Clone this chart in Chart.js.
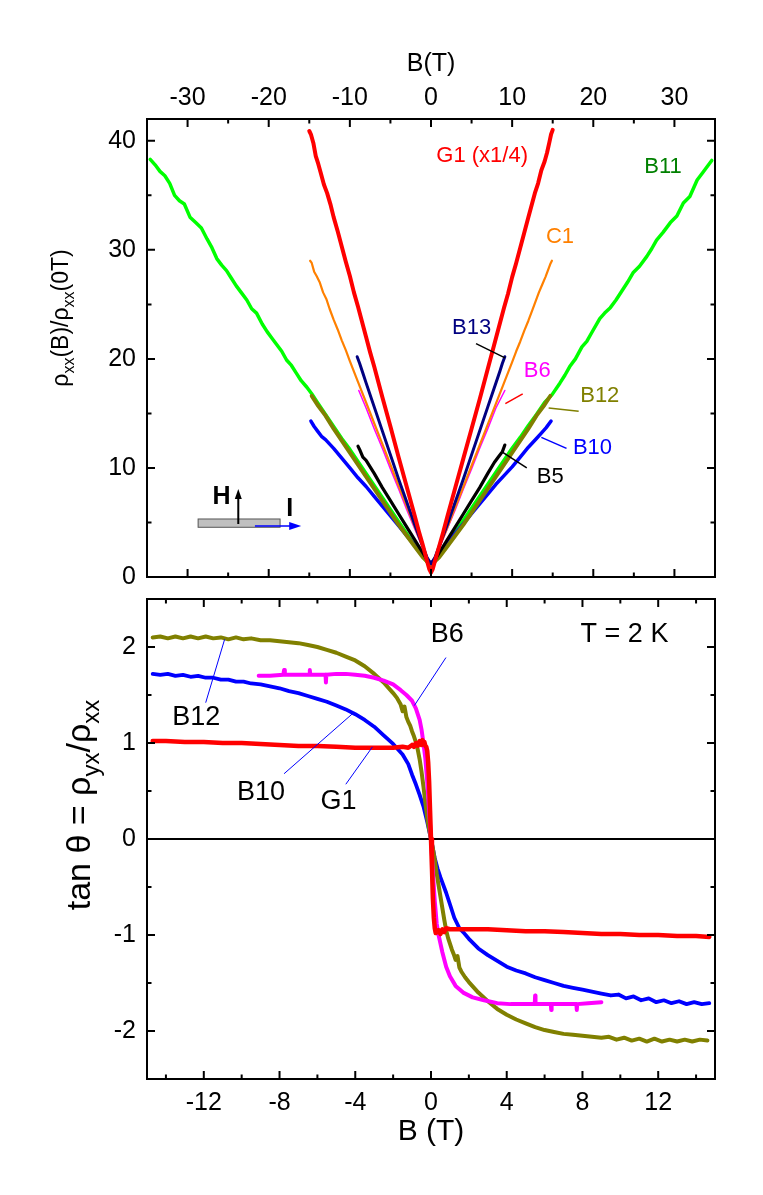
<!DOCTYPE html>
<html>
<head>
<meta charset="utf-8">
<script src="https://cdn.jsdelivr.net/npm/chart.js@4.4.1/dist/chart.umd.min.js"></script>
<style>
  body { margin: 0; background: #fff; }
  #wrap { position: relative; width: 763px; height: 1195px; overflow: hidden; }
  #wrap canvas { position: absolute; left: 0; }
</style>
</head>
<body>
<div id="wrap">
  <canvas id="mrChart" width="763" height="607" style="top:0"></canvas>
  <canvas id="hallChart" width="763" height="626" style="top:569px"></canvas>
</div>
<script>
// ---- top panel: rho_xx(B)/rho_xx(0T), pairs of [B (T), ratio] ----
const g1Top = [[-15,40.9],[-14.8,40.6],[-14.5,39.8],[-14.2,38.6],[-13.9,37.9],[-13.6,37.1],[-13.2,36.0],[-12.8,35.2],[-12.4,34.2],[-12,33.0],[-11.5,31.7],[-11,30.3],[-10.5,28.9],[-10,27.6],[-9.5,26.1],[-9,24.8],[-8.5,23.4],[-8,22.0],[-7.5,20.6],[-7,19.3],[-6,16.5],[-5,13.8],[-4,11.0],[-3,8.3],[-2,5.6],[-1.5,4.2],[-1,2.9],[-0.5,1.5],[-0.2,0.7],[0,0.4],[0.2,0.7],[0.5,1.5],[1,2.8],[1.5,4.1],[2,5.5],[3,8.2],[4,10.9],[5,13.6],[6,16.3],[7,19.1],[7.5,20.5],[8,21.9],[8.5,23.3],[9,24.7],[9.5,26.0],[10,27.5],[10.5,28.8],[11,30.2],[11.5,31.6],[12,33.0],[12.4,34.1],[12.8,35.2],[13.2,36.1],[13.6,37.3],[14,38.1],[14.3,38.9],[14.6,39.9],[14.8,40.6],[15,41.0]];
const c1Top = [[-14.9,29.0],[-14.7,28.8],[-14.4,28.0],[-14.1,27.6],[-13.7,27.0],[-13.3,26.1],[-12.9,25.5],[-12.5,24.6],[-12,23.6],[-11.5,22.7],[-11,21.7],[-10.5,20.8],[-10,19.8],[-9,17.9],[-8,16.0],[-7,14.1],[-6,12.2],[-5,10.3],[-4,8.4],[-3,6.5],[-2,4.6],[-1,2.7],[-0.5,1.8],[0,1.1],[0.5,1.8],[1,2.7],[2,4.5],[3,6.4],[4,8.3],[5,10.2],[6,12.1],[7,14.0],[8,15.9],[9,17.8],[10,19.7],[10.5,20.7],[11,21.6],[11.5,22.6],[12,23.5],[12.5,24.5],[12.9,25.3],[13.3,26.1],[13.7,26.8],[14.1,27.5],[14.4,28.1],[14.7,28.7],[14.9,29.0]];
const b13Top = [[-9.1,20.2],[-8.8,19.6],[-8.4,18.7],[-8,17.8],[-7,15.6],[-6,13.4],[-5,11.2],[-4,9.0],[-3,6.9],[-2,4.8],[-1,2.8],[-0.5,1.8],[0,1.2],[0.5,1.8],[1,2.8],[2,4.8],[3,6.9],[4,9.0],[5,11.2],[6,13.4],[7,15.6],[8,17.8],[8.5,18.9],[8.8,19.6],[9.1,20.2]];
const b6Top = [[-8.9,17.1],[-8,15.5],[-7,13.6],[-6,11.8],[-5,9.9],[-4,8.1],[-3,6.2],[-2,4.4],[-1,2.6],[0,1.1],[1,2.6],[2,4.4],[3,6.2],[4,8.1],[5,9.9],[6,11.8],[7,13.6],[8,15.5],[9.1,17.1]];
const b5Top = [[-9.0,12.0],[-8.8,11.7],[-8.4,11.0],[-8,10.7],[-7.5,10.1],[-7,9.5],[-6,8.2],[-5,7.0],[-4,5.8],[-3,4.6],[-2,3.4],[-1,2.2],[-0.5,1.6],[0,1.2],[0.5,1.6],[1,2.2],[2,3.4],[3,4.6],[4,5.8],[5,7.0],[6,8.2],[7,9.5],[7.8,10.5],[8.3,11.0],[8.8,11.5],[9.1,12.1]];
const b12Top = [[-14.7,16.6],[-14,15.8],[-13,14.8],[-12,13.6],[-11,12.5],[-10,11.4],[-9,10.3],[-8,9.2],[-7,8.1],[-6,7.0],[-5,5.9],[-4,4.8],[-3,3.8],[-2,2.8],[-1,1.8],[0,1.1],[1,1.8],[2,2.8],[3,3.8],[4,4.8],[5,5.9],[6,7.0],[7,8.1],[8,9.2],[9,10.3],[10,11.4],[11,12.5],[12,13.6],[13,14.8],[14,15.8],[14.7,16.6]];
const b10Top = [[-14.8,14.3],[-14.4,13.8],[-14,13.4],[-13.5,12.9],[-13,12.6],[-12,11.8],[-11,10.9],[-10,10.0],[-9,9.1],[-8,8.3],[-7,7.4],[-6,6.5],[-5,5.6],[-4,4.7],[-3,3.8],[-2,2.9],[-1,2.0],[0,1.2],[1,2.1],[2,3.1],[3,4.0],[4,4.9],[5,5.8],[6,6.7],[7,7.6],[8,8.5],[9,9.3],[10,10.1],[11,11.0],[12,11.9],[13,12.7],[13.6,13.2],[14.2,13.7],[14.8,14.3]];
const b11Top = [[-34.6,38.3],[-34.0,37.8],[-33.4,37.2],[-32.8,36.8],[-32.2,36.1],[-31.6,35.0],[-31.0,34.5],[-30.4,34.2],[-29.7,33.0],[-29.0,32.5],[-28.3,32.0],[-27.6,31.0],[-27.0,30.2],[-26.4,29.2],[-25.8,28.6],[-25.2,28.1],[-24.6,27.4],[-24.0,26.7],[-23.4,26.1],[-22.7,25.4],[-22.1,24.6],[-21.5,24.2],[-20.8,23.2],[-20.2,22.5],[-19.6,21.9],[-19.0,21.3],[-18.4,20.7],[-17.8,19.9],[-17.2,19.4],[-16.6,18.7],[-16.0,18.0],[-15.3,17.4],[-14.7,16.8],[-14,16.0],[-13,14.9],[-12,13.8],[-11,12.7],[-10,11.7],[-9,10.6],[-8,9.5],[-7,8.4],[-6,7.3],[-5,6.2],[-4,5.1],[-3,4.0],[-2,2.9],[-1,1.9],[-0.5,1.4],[0,1.1],[0.5,1.5],[1,2.0],[2,3.0],[3,4.1],[4,5.2],[5,6.3],[6,7.4],[7,8.5],[8,9.6],[9,10.7],[10,11.8],[11,12.8],[12,13.9],[13,14.9],[14,16.0],[14.9,16.7],[15.9,17.8],[16.5,18.5],[17.1,19.3],[17.8,20.0],[18.6,21.1],[19.2,21.6],[19.8,22.4],[20.8,23.7],[21.4,24.2],[22.1,24.7],[22.8,25.4],[23.5,26.2],[24.2,27.0],[24.9,27.9],[25.7,28.5],[26.6,29.4],[27.2,30.1],[27.8,30.9],[28.6,31.6],[29.5,32.5],[30.3,33.1],[31.1,34.3],[31.9,34.9],[32.8,36.4],[33.5,37.1],[34.0,37.6],[34.6,38.2]];

// ---- bottom panel: tan(theta), pairs of [B (T), value] ----
const b12Bot = [[-14.7,2.10],[-14.3,2.11],[-13.9,2.09],[-13.5,2.11],[-13.1,2.09],[-12.7,2.11],[-12.3,2.09],[-11.9,2.11],[-11.5,2.09],[-11.1,2.10],[-10.7,2.08],[-10.3,2.10],[-9.9,2.08],[-9.5,2.09],[-9,2.07],[-8.5,2.07],[-8,2.06],[-7.5,2.05],[-7,2.04],[-6.5,2.02],[-6,2.00],[-5.5,1.97],[-5,1.94],[-4.5,1.90],[-4,1.86],[-3.5,1.80],[-3,1.72],[-2.5,1.63],[-2,1.52],[-1.8,1.47],[-1.6,1.40],[-1.5,1.33],[-1.4,1.38],[-1.3,1.27],[-1.2,1.22],[-1.1,1.18],[-1,1.12],[-0.9,1.07],[-0.8,1.01],[-0.7,0.93],[-0.6,0.83],[-0.5,0.70],[-0.4,0.55],[-0.3,0.38],[-0.2,0.22],[-0.1,0.10],[0,0],[0.1,-0.10],[0.2,-0.22],[0.3,-0.36],[0.4,-0.48],[0.5,-0.60],[0.6,-0.72],[0.7,-0.84],[0.8,-0.95],[0.9,-1.03],[1,-1.09],[1.1,-1.15],[1.2,-1.20],[1.3,-1.26],[1.4,-1.22],[1.5,-1.34],[1.6,-1.38],[1.8,-1.44],[2,-1.49],[2.5,-1.60],[3,-1.69],[3.5,-1.77],[4,-1.83],[4.5,-1.88],[5,-1.92],[5.5,-1.96],[6,-1.99],[6.5,-2.01],[7,-2.03],[7.5,-2.04],[8,-2.05],[8.5,-2.06],[9,-2.07],[9.4,-2.06],[9.8,-2.09],[10.2,-2.07],[10.6,-2.10],[11,-2.08],[11.4,-2.11],[11.8,-2.08],[12.2,-2.11],[12.6,-2.09],[13,-2.11],[13.4,-2.09],[13.8,-2.11],[14.2,-2.09],[14.6,-2.10]];
const b10Bot = [[-14.7,1.72],[-14.3,1.71],[-13.9,1.72],[-13.5,1.70],[-13.1,1.71],[-12.7,1.69],[-12.3,1.70],[-11.9,1.68],[-11.5,1.68],[-11.1,1.66],[-10.7,1.66],[-10.3,1.64],[-9.9,1.64],[-9.5,1.62],[-9,1.61],[-8.5,1.59],[-8,1.57],[-7.5,1.54],[-7,1.52],[-6.5,1.49],[-6,1.46],[-5.5,1.43],[-5,1.39],[-4.5,1.35],[-4,1.30],[-3.5,1.24],[-3,1.17],[-2.5,1.08],[-2,0.99],[-1.5,0.88],[-1.2,0.78],[-1,0.67],[-0.8,0.57],[-0.6,0.46],[-0.4,0.34],[-0.2,0.18],[0,0],[0.2,-0.20],[0.35,-0.31],[0.5,-0.40],[0.8,-0.56],[1,-0.68],[1.23,-0.82],[1.5,-0.93],[1.7,-0.97],[2,-1.04],[2.5,-1.14],[3,-1.21],[3.5,-1.27],[4,-1.33],[4.5,-1.37],[5,-1.40],[5.5,-1.44],[6,-1.47],[6.5,-1.50],[7,-1.53],[7.5,-1.55],[8,-1.57],[8.5,-1.59],[9,-1.61],[9.5,-1.63],[9.9,-1.62],[10.3,-1.66],[10.7,-1.64],[11.1,-1.68],[11.5,-1.66],[11.9,-1.70],[12.3,-1.68],[12.7,-1.71],[13.1,-1.69],[13.5,-1.72],[13.9,-1.70],[14.3,-1.72],[14.7,-1.71]];
const b6Bot = [[-9.1,1.70],[-8.5,1.70],[-7.8,1.71],[-7.76,1.76],[-7.72,1.71],[-7,1.71],[-6.42,1.71],[-6.4,1.76],[-6.38,1.71],[-5.57,1.71],[-5.55,1.63],[-5.53,1.71],[-5,1.72],[-4.5,1.72],[-4,1.71],[-3.5,1.70],[-3,1.68],[-2.5,1.65],[-2,1.61],[-1.6,1.55],[-1.3,1.50],[-1,1.44],[-0.8,1.36],[-0.6,1.24],[-0.5,1.14],[-0.4,1.00],[-0.3,0.84],[-0.2,0.60],[-0.1,0.30],[0,0],[0.1,-0.35],[0.2,-0.65],[0.3,-0.88],[0.4,-1.00],[0.5,-1.09],[0.6,-1.18],[0.8,-1.33],[1,-1.43],[1.3,-1.53],[1.7,-1.60],[2.2,-1.65],[2.8,-1.68],[3.5,-1.71],[4.2,-1.72],[5,-1.72],[5.48,-1.72],[5.5,-1.63],[5.52,-1.72],[6,-1.72],[6.33,-1.72],[6.35,-1.78],[6.37,-1.72],[7,-1.72],[7.68,-1.72],[7.7,-1.78],[7.72,-1.72],[8.3,-1.71],[9,-1.70]];
const g1Bot = [[-14.7,1.02],[-14,1.02],[-13,1.01],[-12,1.01],[-11,1.00],[-10,1.00],[-9,0.99],[-8,0.98],[-7,0.97],[-6,0.97],[-5,0.96],[-4,0.95],[-3,0.95],[-2.5,0.95],[-2,0.95],[-1.5,0.96],[-1.2,0.95],[-1,0.98],[-0.9,0.96],[-0.8,1.00],[-0.7,0.97],[-0.6,1.02],[-0.5,0.98],[-0.45,1.03],[-0.4,0.99],[-0.35,1.01],[-0.3,0.97],[-0.25,0.96],[-0.2,0.92],[-0.15,0.80],[-0.1,0.60],[-0.05,0.30],[0,0],[0.05,-0.30],[0.1,-0.62],[0.15,-0.82],[0.2,-0.93],[0.25,-0.98],[0.3,-0.97],[0.4,-0.95],[0.5,-0.99],[0.6,-0.94],[0.7,-0.97],[0.8,-0.93],[1,-0.94],[1.5,-0.94],[2,-0.94],[3,-0.94],[4,-0.95],[5,-0.96],[6,-0.96],[7,-0.97],[8,-0.98],[9,-0.99],[10,-0.99],[11,-1.00],[12,-1.00],[13,-1.01],[14,-1.01],[14.7,-1.02]];

// ---- ticks ----
const topXMajor = [-30, -20, -10, 0, 10, 20, 30];
const topXMinor = [-25, -15, -5, 5, 15, 25];
const topYMajor = [0, 10, 20, 30, 40];
const topYMinor = [5, 15, 25, 35];
const botXMajor = [-12, -8, -4, 0, 4, 8, 12];
const botXMinor = [-14, -10, -6, -2, 2, 6, 10, 14];
const botYMajor = [-2, -1, 0, 1, 2];
const botYMinor = [-1.5, -0.5, 0.5, 1.5];

const FONT = "'Liberation Sans', Arial, Helvetica, sans-serif";
Chart.defaults.font.family = FONT;
Chart.defaults.color = '#000';

function curve(label, pairs, color, width) {
    return {
        label: label,
        data: pairs.map(p => ({ x: p[0], y: p[1] })),
        borderColor: color,
        backgroundColor: color,
        borderWidth: width,
        showLine: true,
        pointRadius: 0,
        tension: 0,
        borderJoinStyle: 'round',
        borderCapStyle: 'round'
    };
}

// ticks are handed to the scale explicitly; labels only on the major ones
function axis(major, minor, opts, pad) {
    const all = major.concat(minor).sort((a, b) => a - b);
    return Object.assign({
        type: 'linear',
        afterBuildTicks: s => { s.ticks = all.map(v => ({ value: v })); },
        ticks: {
            autoSkip: false, maxRotation: 0, color: '#000', font: { size: 25 }, padding: pad,
            callback: v => major.includes(v) ? String(v) : ''
        },
        grid: { display: false, drawTicks: false },
        border: { display: false }
    }, opts);
}

// inward ticks on all four sides and the box
const frameTicks = {
    id: 'frameTicks',
    afterDatasetsDraw(chart) {
        const { ctx, chartArea: a, scales: { x, y } } = chart;
        ctx.save();
        ctx.strokeStyle = '#000';
        ctx.lineWidth = 2;
        ctx.beginPath();
        x.ticks.forEach(t => {
            const px = x.getPixelForValue(t.value);
            const len = t.label !== '' ? 8 : 4.5;
            ctx.moveTo(px, a.top); ctx.lineTo(px, a.top + len);
            ctx.moveTo(px, a.bottom); ctx.lineTo(px, a.bottom - len);
        });
        y.ticks.forEach(t => {
            const py = y.getPixelForValue(t.value);
            const len = t.label !== '' ? 8 : 4.5;
            ctx.moveTo(a.left, py); ctx.lineTo(a.left + len, py);
            ctx.moveTo(a.right, py); ctx.lineTo(a.right - len, py);
        });
        ctx.stroke();
        ctx.strokeRect(a.left, a.top, a.right - a.left, a.bottom - a.top);
        ctx.restore();
    }
};

// rotated axis title with subscripts
function drawVerticalTitle(ctx, parts, baseX, centerY) {
    let total = 0;
    parts.forEach(p => {
        ctx.font = `${p.size}px ${FONT}`;
        p.w = ctx.measureText(p.t).width;
        total += p.w;
    });
    ctx.save();
    ctx.translate(baseX, centerY);
    ctx.rotate(-Math.PI / 2);
    ctx.fillStyle = '#000';
    ctx.textBaseline = 'alphabetic';
    ctx.textAlign = 'left';
    let cx = -total / 2;
    parts.forEach(p => {
        ctx.font = `${p.size}px ${FONT}`;
        ctx.fillText(p.t, cx, p.dy || 0);
        cx += p.w;
    });
    ctx.restore();
}

function decor(id, cfg) {
    return {
        id: id,
        afterDatasetsDraw(chart) {
            const { ctx, scales: { x, y } } = chart;
            ctx.save();
            cfg.leaders.forEach(l => {
                ctx.strokeStyle = l.color;
                ctx.lineWidth = l.width || 1;
                ctx.beginPath();
                ctx.moveTo(x.getPixelForValue(l.from[0]), y.getPixelForValue(l.from[1]));
                ctx.lineTo(x.getPixelForValue(l.to[0]), y.getPixelForValue(l.to[1]));
                ctx.stroke();
            });
            ctx.textAlign = 'center';
            ctx.textBaseline = 'middle';
            cfg.notes.forEach(n => {
                ctx.font = `${n.size}px ${FONT}`;
                ctx.fillStyle = n.color;
                ctx.fillText(n.t, x.getPixelForValue(n.b), y.getPixelForValue(n.v));
            });
            if (cfg.extra) cfg.extra(ctx, x, y);
            ctx.restore();
            drawVerticalTitle(ctx, cfg.title.parts, cfg.title.x, cfg.title.y);
        }
    };
}

// little sample sketch (H up, I along the bar) in the top panel
function drawSketch(ctx, x, y) {
    const l = x.getPixelForValue(-28.7), r = x.getPixelForValue(-18.6);
    const t = y.getPixelForValue(5.32), b = y.getPixelForValue(4.56);
    ctx.fillStyle = '#c0c0c0';
    ctx.fillRect(l, t, r - l, b - t);
    ctx.strokeStyle = '#555';
    ctx.lineWidth = 1;
    ctx.strokeRect(l, t, r - l, b - t);

    const hx = x.getPixelForValue(-23.75);
    const hy0 = y.getPixelForValue(4.86), hy1 = y.getPixelForValue(8.07);
    ctx.strokeStyle = '#000';
    ctx.lineWidth = 2;
    ctx.beginPath(); ctx.moveTo(hx, hy0); ctx.lineTo(hx, hy1 + 8); ctx.stroke();
    ctx.fillStyle = '#000';
    ctx.beginPath(); ctx.moveTo(hx, hy1); ctx.lineTo(hx - 3.5, hy1 + 10); ctx.lineTo(hx + 3.5, hy1 + 10); ctx.closePath(); ctx.fill();

    const iy = y.getPixelForValue(4.68);
    const ix0 = x.getPixelForValue(-21.7), ix1 = x.getPixelForValue(-16.0);
    ctx.strokeStyle = '#0000ff';
    ctx.lineWidth = 1.5;
    ctx.beginPath(); ctx.moveTo(ix0, iy); ctx.lineTo(ix1 - 10, iy); ctx.stroke();
    ctx.fillStyle = '#0000ff';
    ctx.beginPath(); ctx.moveTo(ix1, iy); ctx.lineTo(ix1 - 12, iy - 4); ctx.lineTo(ix1 - 12, iy + 4); ctx.closePath(); ctx.fill();

    ctx.fillStyle = '#000';
    ctx.textAlign = 'center';
    ctx.textBaseline = 'middle';
    ctx.font = `bold 25px ${FONT}`;
    ctx.fillText('H', x.getPixelForValue(-25.8), y.getPixelForValue(7.37));
    ctx.fillText('I', x.getPixelForValue(-17.4), y.getPixelForValue(6.27));
}

const topDecor = decor('topDecor', {
    notes: [
        { t: 'G1 (x1/4)', b: 6.3, v: 38.6, color: '#ff0000', size: 22 },
        { t: 'B11', b: 28.6, v: 37.6, color: '#008000', size: 22 },
        { t: 'C1', b: 15.9, v: 31.2, color: '#ff8000', size: 22 },
        { t: 'B13', b: 5.0, v: 22.8, color: '#000080', size: 22 },
        { t: 'B6', b: 13.1, v: 18.9, color: '#ff00ff', size: 22 },
        { t: 'B12', b: 20.8, v: 16.6, color: '#808000', size: 22 },
        { t: 'B10', b: 19.9, v: 11.8, color: '#0000ff', size: 22 },
        { t: 'B5', b: 14.7, v: 9.15, color: '#000000', size: 22 }
    ],
    leaders: [
        { from: [5.55, 21.4], to: [9.12, 20.1], color: '#000000', width: 1.5 },
        { from: [9.16, 15.9], to: [11.3, 16.8], color: '#ff0000', width: 1.5 },
        { from: [14.5, 15.5], to: [18.2, 15.2], color: '#808000', width: 1.5 },
        { from: [13.6, 12.8], to: [16.7, 11.8], color: '#0000ff', width: 1.5 },
        { from: [8.7, 11.5], to: [11.8, 10.0], color: '#000000', width: 1.5 }
    ],
    extra: drawSketch,
    title: {
        x: 68, y: 318,
        parts: [
            { t: 'ρ', size: 23 }, { t: 'xx', size: 16, dy: 6 }, { t: '(B)/', size: 23 },
            { t: 'ρ', size: 23 }, { t: 'xx', size: 16, dy: 6 }, { t: '(0T)', size: 23 }
        ]
    }
});

const bottomDecor = decor('bottomDecor', {
    notes: [
        { t: 'B12', b: -12.4, v: 1.27, color: '#000', size: 27 },
        { t: 'B10', b: -8.98, v: 0.48, color: '#000', size: 27 },
        { t: 'G1', b: -4.88, v: 0.39, color: '#000', size: 27 },
        { t: 'B6', b: 0.86, v: 2.13, color: '#000', size: 27 },
        { t: 'T = 2 K', b: 10.22, v: 2.13, color: '#000', size: 27 }
    ],
    leaders: [
        { from: [-11.9, 1.42], to: [-10.9, 2.08], color: '#0000ff', width: 1 },
        { from: [-7.76, 0.68], to: [-4.06, 1.32], color: '#0000ff', width: 1 },
        { from: [-4.5, 0.57], to: [-3.09, 0.96], color: '#0000ff', width: 1 },
        { from: [0.79, 1.89], to: [-0.88, 1.39], color: '#0000ff', width: 1 }
    ],
    title: {
        x: 90, y: 236,
        parts: [
            { t: 'tan θ = ρ', size: 34 }, { t: 'yx', size: 24, dy: 9 },
            { t: '/ρ', size: 34 }, { t: 'xx', size: 24, dy: 9 }
        ]
    }
});

new Chart(document.getElementById('mrChart'), {
    type: 'scatter',
    data: {
        datasets: [
            curve('G1', g1Top, '#ff0000', 4),
            curve('B13', b13Top, '#000080', 3),
            curve('C1', c1Top, '#ff8000', 2.2),
            curve('B6', b6Top, '#ff00ff', 1.5),
            curve('B5', b5Top, '#000000', 3.2),
            curve('B12', b12Top, '#808000', 4),
            curve('B10', b10Top, '#0000ff', 3.5),
            curve('B11', b11Top, '#00ff00', 3.5)
        ]
    },
    options: {
        responsive: false,
        animation: false,
        layout: { padding: { left: 0, right: 48, top: 0, bottom: 30 } },
        plugins: { legend: { display: false }, tooltip: { enabled: false } },
        scales: {
            x: axis(topXMajor, topXMinor, {
                position: 'top', min: -35, max: 35,
                title: { display: true, text: 'B(T)', color: '#000', font: { size: 25 }, padding: { top: 49, bottom: 0 } },
                afterFit: s => { s.height = 119; }
            }, 6),
            y: axis(topYMajor, topYMinor, {
                position: 'left', min: 0, max: 42,
                afterFit: s => { s.width = 147; }
            }, 11)
        }
    },
    plugins: [frameTicks, topDecor]
});

const hallY = axis(botYMajor, botYMinor, {
    position: 'left', min: -2.5, max: 2.5,
    afterFit: s => { s.width = 147; }
}, 11);
// only the zero line is drawn across the panel
hallY.grid = {
    display: true, drawTicks: false, lineWidth: 2,
    color: c => (c.tick && c.tick.value === 0) ? '#000' : 'rgba(0,0,0,0)'
};

new Chart(document.getElementById('hallChart'), {
    type: 'scatter',
    data: {
        datasets: [
            curve('G1', g1Bot, '#ff0000', 4.5),
            curve('B6', b6Bot, '#ff00ff', 4),
            curve('B12', b12Bot, '#808000', 4),
            curve('B10', b10Bot, '#0000ff', 3.8)
        ]
    },
    options: {
        responsive: false,
        animation: false,
        layout: { padding: { left: 0, right: 48, top: 30, bottom: 0 } },
        plugins: { legend: { display: false }, tooltip: { enabled: false } },
        scales: {
            x: axis(botXMajor, botXMinor, {
                position: 'bottom', min: -15, max: 15,
                title: { display: true, text: 'B (T)', color: '#000', font: { size: 30 }, padding: { top: 0, bottom: 45 } },
                afterFit: s => { s.height = 116; }
            }, 9),
            y: hallY
        }
    },
    plugins: [frameTicks, bottomDecor]
});
</script>
</body>
</html>
